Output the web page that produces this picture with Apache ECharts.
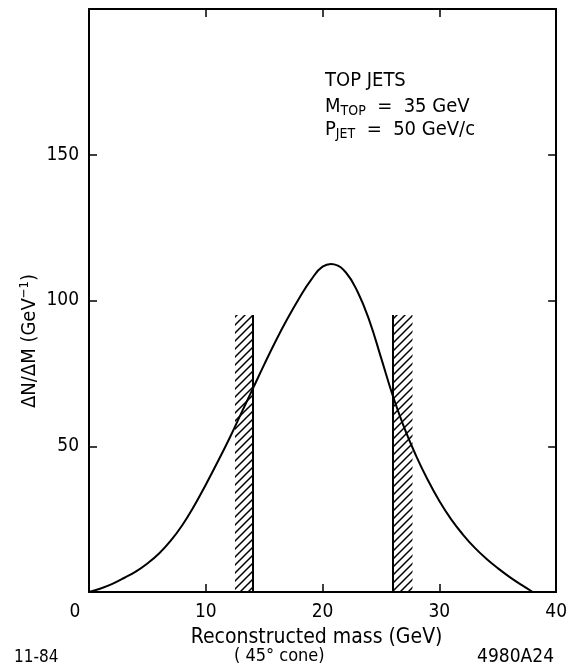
<!DOCTYPE html>
<html>
<head>
<meta charset="utf-8">
<script src="https://cdn.jsdelivr.net/npm/echarts@6/dist/echarts.min.js"></script>
<style>html,body{margin:0;padding:0;background:#fff}#c{width:570px;height:669px}</style>
</head>
<body>
<div id="c"></div>
<script>
// Data
const massX = [0, 1, 2, 3, 4, 5, 6, 7, 8, 9, 10, 11, 12, 13, 14, 15, 16, 17, 18, 19, 20, 21, 22, 23, 24, 25, 26, 27, 28, 29, 30, 31, 32, 33, 34, 35, 36, 37, 38];
const dNdM  = [0, 1.2, 2.8, 4.8, 7, 9.8, 13.2, 17.6, 23, 29.5, 36.8, 44.5, 52.5, 61, 69.5, 78, 86.2, 93.8, 100.8, 107, 111.6, 112.4, 109.6, 103, 93.2, 80.5, 67.5, 56.3, 46.8, 38.5, 31.2, 25, 19.8, 15.3, 11.5, 8.2, 5.2, 2.5, 0];
const bandLeft = [12.5, 14];     // hatched band, solid edge at 14
const bandRight = [26, 27.7];    // hatched band, solid edge at 26
const bandTop = 95;
const xTicks = [0, 10, 20, 30, 40];
const yTicks = [50, 100, 150];

const FONT = "'DejaVu Sans Condensed', 'DejaVu Sans', sans-serif";

// hatch pattern
function hatch() {
  const s = 8;
  const cv = document.createElement('canvas');
  cv.width = s; cv.height = s;
  const g = cv.getContext('2d');
  g.strokeStyle = '#000';
  g.lineWidth = 1.5;
  g.beginPath();
  g.moveTo(0, s); g.lineTo(s, 0);
  g.moveTo(-s/2, s/2); g.lineTo(s/2, -s/2);
  g.moveTo(s/2, s*1.5); g.lineTo(s*1.5, s/2);
  g.stroke();
  return cv;
}
const pat = { image: hatch(), repeat: 'repeat' };

const chart = echarts.init(document.getElementById('c'), null, {renderer: 'canvas'});
const mkLine = () => ({ show: true, onZero: false, lineStyle: { color: '#000', width: 2 } });
const mkTick = () => ({ show: true, inside: true, length: 8, lineStyle: { color: '#000', width: 1.5 } });

chart.setOption({
  backgroundColor: '#fff',
  animation: false,
  grid: { left: 89, right: 11, top: 9, bottom: 77 },
  xAxis: [{
    type: 'value', min: xTicks[0], max: xTicks[xTicks.length - 1], interval: 10,
    axisLine: mkLine(), axisTick: mkTick(), splitLine: { show: false },
    axisLabel: {
      color: '#000', fontSize: 19, fontFamily: FONT, margin: 11,
      formatter: v => v === 0 ? '{z|0}' : String(v),
      rich: { z: { fontSize: 19, fontFamily: FONT, color: '#000', padding: [0, 28, 0, 0] } }
    },
    name: 'Reconstructed mass (GeV)', nameLocation: 'middle', nameGap: 33,
    nameTextStyle: { color: '#000', fontSize: 21, fontFamily: FONT, padding: [0, 12, 0, 0] }
  }, {
    type: 'value', position: 'top', min: 0, max: 40, interval: 10,
    axisLine: mkLine(), axisTick: mkTick(), axisLabel: { show: false }, splitLine: { show: false }
  }],
  yAxis: [{
    type: 'value', min: 0, max: 200, interval: 50,
    axisLine: mkLine(), axisTick: mkTick(), splitLine: { show: false },
    axisLabel: {
      color: '#000', fontSize: 19, fontFamily: FONT, margin: 10,
      formatter: v => yTicks.indexOf(v) >= 0 ? String(v) : ''
    }
  }, {
    type: 'value', position: 'right', min: 0, max: 200, interval: 50,
    axisLine: mkLine(), axisTick: mkTick(), axisLabel: { show: false }, splitLine: { show: false }
  }],
  series: [{
    type: 'custom',
    data: massX.map((x, i) => [x, dNdM[i]]),
    encode: { x: 0, y: 1 },
    renderItem: (params, api) => {
      if (params.dataIndex !== 0) return null;
      const pts = massX.map((x, i) => api.coord([x, dNdM[i]]));
      return {
        type: 'polyline',
        shape: { points: pts, smooth: 0.45 },
        style: { stroke: '#000', lineWidth: 2, fill: null }
      };
    },
    z: 3
  }, {
    type: 'line', data: [], symbol: 'none',
    markArea: {
      silent: true,
      itemStyle: { color: pat, borderWidth: 0 },
      data: [
        [{ coord: [bandLeft[0], 0] }, { coord: [bandLeft[1], bandTop] }],
        [{ coord: [bandRight[0], 0] }, { coord: [bandRight[1], bandTop] }]
      ]
    },
    markLine: {
      silent: true, symbol: 'none', label: { show: false },
      lineStyle: { color: '#000', width: 2, type: 'solid' },
      data: [
        [{ coord: [bandLeft[1], 0] }, { coord: [bandLeft[1], bandTop] }],
        [{ coord: [bandRight[0], 0] }, { coord: [bandRight[0], bandTop] }]
      ]
    },
    z: 2
  }],
  graphic: [
    { type: 'text', x: 30, y: 341, rotation: Math.PI / 2, style: {
        text: '{a|ΔN/ΔM (GeV}{s|−1}{a|)}', align: 'center', verticalAlign: 'middle', fill: '#000',
        rich: {
          a: { fontSize: 20, fontFamily: FONT, fill: '#000' },
          s: { fontSize: 13, fontFamily: FONT, fill: '#000', padding: [0, 0, 10, 0] }
        } } },
    { type: 'text', left: 325, top: 71, style: { text: 'TOP JETS', fontSize: 20, fontFamily: FONT, fill: '#000' } },
    { type: 'text', left: 325, top: 97, style: {
        text: '{a|M}{s|TOP}{a|  =  35 GeV}', fill: '#000',
        rich: { a: { fontSize: 20, fontFamily: FONT, fill: '#000' }, s: { fontSize: 14, fontFamily: FONT, fill: '#000', padding: [9, 0, 0, 0] } } } },
    { type: 'text', left: 325, top: 120, style: {
        text: '{a|P}{s|JET}{a|  =  50 GeV/c}', fill: '#000',
        rich: { a: { fontSize: 20, fontFamily: FONT, fill: '#000' }, s: { fontSize: 14, fontFamily: FONT, fill: '#000', padding: [9, 0, 0, 0] } } } },
    { type: 'text', left: 234, top: 647, style: { text: '( 45° cone)', fontSize: 18, fontFamily: FONT, fill: '#000' } },
    { type: 'text', left: 14, top: 649, style: { text: '11-84', fontSize: 17, fontFamily: FONT, fill: '#000' } },
    { type: 'text', right: 16, top: 648, style: { text: '4980A24', fontSize: 19, fontFamily: FONT, fill: '#000' } }
  ]
});
</script>
</body>
</html>
